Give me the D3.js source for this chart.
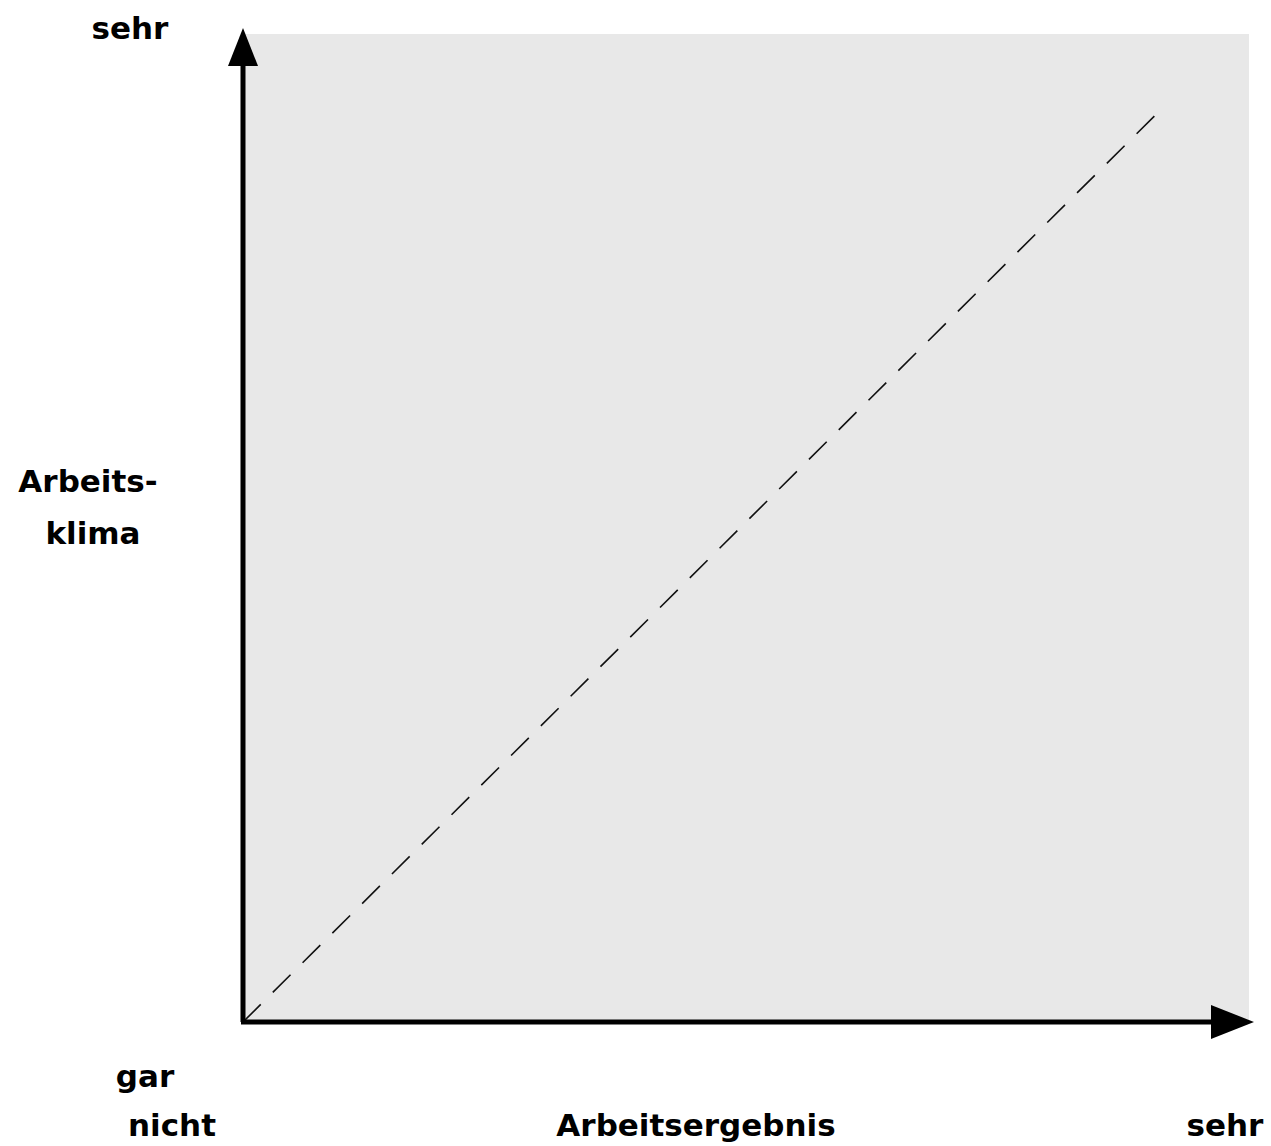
<!DOCTYPE html>
<html>
<head>
<meta charset="utf-8">
<script src="https://cdn.jsdelivr.net/npm/d3@7"></script>
<style>
  body { margin: 0; background: #fff; }
  svg text { font-family: "Comic Sans MS", "DejaVu Sans", sans-serif; font-weight: bold; fill: #000; }
</style>
</head>
<body>
<svg id="chart" width="1271" height="1146"></svg>
<script>
// axis ends, 0 = "gar nicht", 1 = "sehr"
var xDomain = [0, 1];
var yDomain = [0, 1];
// dashed diagonal (Arbeitsergebnis, Arbeitsklima)
var diagX = [0, 0.907];
var diagY = [0, 0.918];

var svg = d3.select('#chart');

var x = d3.scaleLinear().domain(xDomain).range([243, 1249]);
var y = d3.scaleLinear().domain(yDomain).range([1022, 34]);

// grey plot area
svg.append('rect')
    .attr('x', x(0) + 2)
    .attr('y', y(1))
    .attr('width', x(1) - x(0) - 2)
    .attr('height', y(0) - y(1))
    .style('fill', '#e8e8e8');

// diagonal
var pts = diagX.map(function(d, i) { return [x(d), y(diagY[i])]; });
svg.append('path')
    .attr('d', d3.line()(pts))
    .style('stroke', '#111')
    .style('stroke-width', 1.6)
    .style('stroke-dasharray', '25,17')
    .style('fill', 'none');

// axes with arrows
svg.append('line')
    .attr('x1', x(0)).attr('y1', y(0))
    .attr('x2', x(0)).attr('y2', 60)
    .style('stroke', '#000').style('stroke-width', 5);
svg.append('path')
    .attr('d', 'M' + (x(0) - 15) + ' 66 L' + x(0) + ' 28 L' + (x(0) + 15) + ' 66 Z')
    .style('fill', '#000');

svg.append('line')
    .attr('x1', x(0) - 2).attr('y1', y(0))
    .attr('x2', 1215).attr('y2', y(0))
    .style('stroke', '#000').style('stroke-width', 5);
svg.append('path')
    .attr('d', 'M1211 ' + (y(0) - 17) + ' L1254 ' + y(0) + ' L1211 ' + (y(0) + 17) + ' Z')
    .style('fill', '#000');

// labels
var labels = [
    { t: 'sehr', x: 130, y: 39 },
    { t: 'Arbeits-', x: 88, y: 492 },
    { t: 'klima', x: 93, y: 544 },
    { t: 'gar', x: 145, y: 1087 },
    { t: 'nicht', x: 172, y: 1136 },
    { t: 'Arbeitsergebnis', x: 696, y: 1136 },
    { t: 'sehr', x: 1225, y: 1136 }
];
svg.selectAll('text.lab')
    .data(labels)
    .enter()
    .append('text')
    .attr('class', 'lab')
    .attr('x', function(d) { return d.x; })
    .attr('y', function(d) { return d.y; })
    .style('text-anchor', 'middle')
    .style('font-size', '31px')
    .text(function(d) { return d.t; });
</script>
</body>
</html>
